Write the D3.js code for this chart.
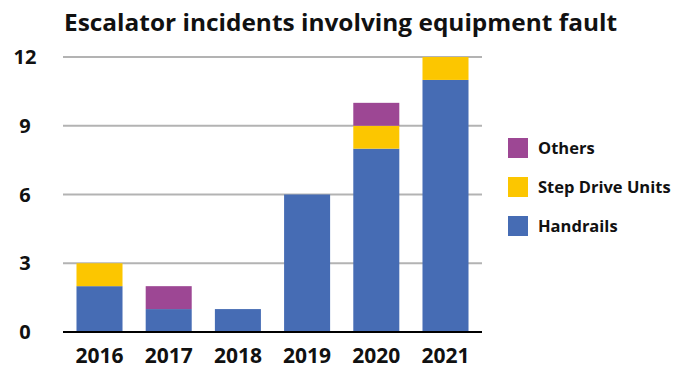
<!DOCTYPE html>
<html>
<head>
<meta charset="utf-8">
<script src="https://cdn.jsdelivr.net/npm/d3@7"></script>
<style>
  body { margin: 0; background: #fff; }
  svg text { font-family: "Open Sans", "Noto Sans", sans-serif; font-weight: 700; fill: #111; }
  .grid line { stroke: #b3b3b3; stroke-width: 2; }
</style>
</head>
<body>
<svg id="svg1" width="687" height="369"></svg>
<script>
var years = ["2016", "2017", "2018", "2019", "2020", "2021"];
var handrails = [2, 1, 1, 6, 8, 11];
var stepDrive = [1, 0, 0, 0, 1, 1];
var others = [0, 1, 0, 0, 1, 0];
var seriesNames = ["Handrails", "Step Drive Units", "Others"];
var yTicks = [0, 3, 6, 9, 12];

var colors = { "Handrails": "#466cb4", "Step Drive Units": "#fcc600", "Others": "#9d4794" };

var svg = d3.select("#svg1");

var x0 = 63, x1 = 482, yTop = 57, yBot = 332;

var scaleX = d3.scaleBand().domain(years).range([x0, x1]).paddingInner(0.335).paddingOuter(0.195);
var scaleY = d3.scaleLinear().domain([0, 12]).range([yBot, yTop]);

// title
svg.append("text")
   .attr("x", 64)
   .attr("y", 31)
   .attr("textLength", 553)
   .attr("lengthAdjust", "spacingAndGlyphs")
   .style("font-size", "23px")
   .text("Escalator incidents involving equipment fault");

// grid
svg.append("g")
   .attr("class", "grid")
   .selectAll("line")
   .data(yTicks.filter(function(d) { return d > 0; }))
   .enter()
   .append("line")
   .attr("x1", x0).attr("x2", x1)
   .attr("y1", function(d) { return scaleY(d); })
   .attr("y2", function(d) { return scaleY(d); });

// y labels
svg.selectAll(".ylab")
   .data(yTicks)
   .enter()
   .append("text")
   .attr("class", "ylab")
   .attr("x", 25)
   .attr("y", function(d) { return scaleY(d) + 7; })
   .attr("text-anchor", "middle")
   .style("font-size", "20px")
   .text(function(d) { return d; });

// stacked data
var table = years.map(function(y, i) {
  return { year: y, "Handrails": handrails[i], "Step Drive Units": stepDrive[i], "Others": others[i] };
});
var stack = d3.stack().keys(seriesNames)(table);

svg.selectAll(".layer")
   .data(stack)
   .enter()
   .append("g")
   .attr("class", "layer")
   .attr("fill", function(d) { return colors[d.key]; })
   .selectAll("rect")
   .data(function(d) { return d; })
   .enter()
   .append("rect")
   .attr("x", function(d) { return scaleX(d.data.year); })
   .attr("width", scaleX.bandwidth())
   .attr("y", function(d) { return scaleY(d[1]); })
   .attr("height", function(d) { return scaleY(d[0]) - scaleY(d[1]); });

// baseline
svg.append("line")
   .attr("x1", x0).attr("x2", x1)
   .attr("y1", yBot).attr("y2", yBot)
   .attr("stroke", "#000")
   .attr("stroke-width", 2);

// x labels
svg.selectAll(".xlab")
   .data(years)
   .enter()
   .append("text")
   .attr("class", "xlab")
   .attr("x", function(d) { return scaleX(d) + scaleX.bandwidth() / 2; })
   .attr("y", 363)
   .attr("text-anchor", "middle")
   .style("font-size", "21px")
   .text(function(d) { return d; });

// legend
var legend = svg.selectAll(".legend")
   .data(seriesNames.slice().reverse())
   .enter()
   .append("g")
   .attr("class", "legend")
   .attr("transform", function(d, i) { return "translate(508," + (138 + i * 39) + ")"; });

legend.append("rect")
   .attr("width", 20).attr("height", 20)
   .attr("fill", function(d) { return colors[d]; });

legend.append("text")
   .attr("x", 30)
   .attr("y", 16)
   .style("font-size", "16.5px")
   .text(function(d) { return d; });
</script>
</body>
</html>
